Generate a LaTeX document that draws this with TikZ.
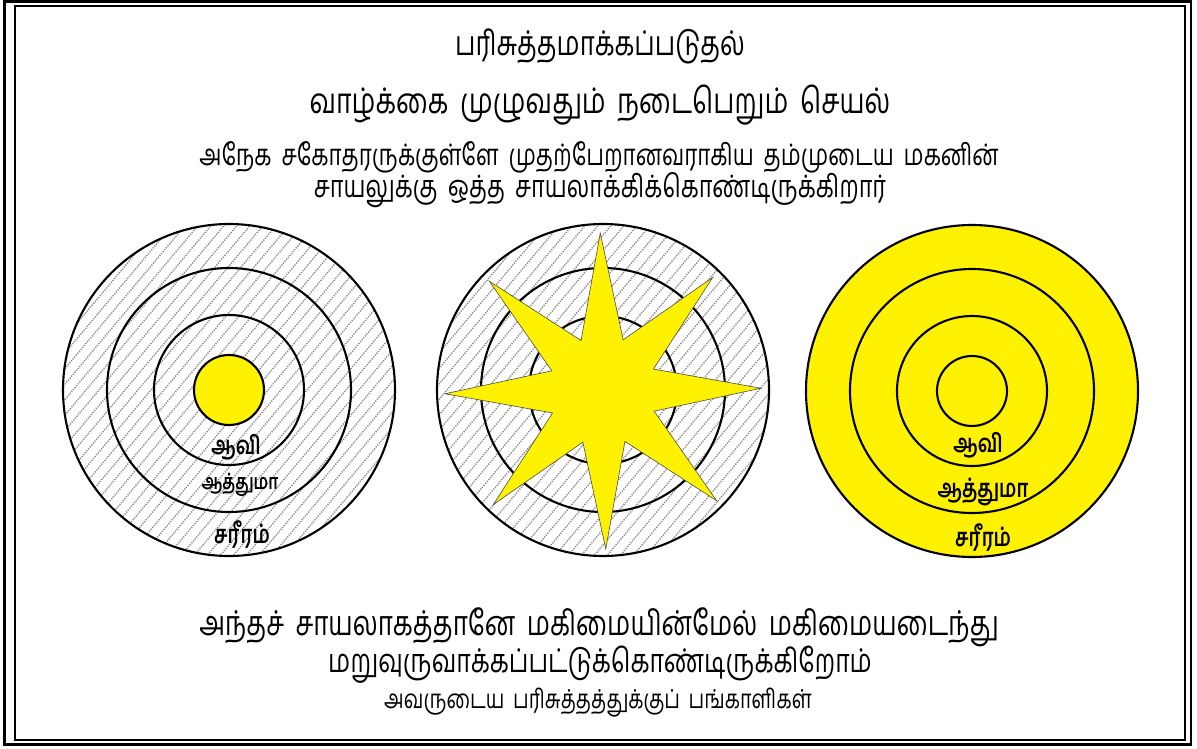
\documentclass[tikz,border=0pt]{standalone}
\usepackage{graphicx}
\usepackage{fontspec}
\newfontfamily\tam[Script=Tamil,WordSpace=1.8]{Hind Madurai}
\newcommand\tallt[1]{\scalebox{1}[1.32]{#1}}
\begin{document}
\begin{tikzpicture}[x=1pt,y=-1pt,
  ring/.style={draw=black,line width=2.1pt},
  hatch/.style={draw=gray!90,line width=1.4pt,dash pattern=on 1.3pt off 1.2pt},
  lbl/.style={inner sep=0pt,font=\tam\bfseries\fontsize{19}{21}\selectfont},
  lbls/.style={inner sep=0pt,font=\tam\bfseries\fontsize{16}{18}\selectfont},
  txt/.style={inner sep=0pt},
  sun/.style={fill=yellow,draw=gray!60!black,line width=0.6pt}]
\useasboundingbox (0,0) rectangle (1197,749);
\fill[white] (0,0) rectangle (1197,749);
% frame
\draw[line width=2.2pt] (4.5,1.5) rectangle (1191,744.5);
\draw[line width=2pt] (15,6.5) rectangle (1185,739.5);
% texts
\node[txt,font=\tam\fontsize{25.8}{30}\selectfont] (t1) at (600,46) {\tallt{பரிசுத்தமாக்கப்படுதல்}};
\node[txt,font=\tam\fontsize{26.7}{30}\selectfont] (t2) at (600,105) {\tallt{வாழ்க்கை முழுவதும் நடைபெறும் செயல்}};
\node[txt,font=\tam\fontsize{22.4}{26}\selectfont] (t3) at (599,157) {\tallt{அநேக சகோதரருக்குள்ளே முதற்பேறானவராகிய தம்முடைய மகனின்}};
\node[txt,font=\tam\fontsize{23.4}{26}\selectfont] (t4) at (600,190) {\tallt{சாயலுக்கு ஒத்த சாயலாக்கிக்கொண்டிருக்கிறார்}};
\node[txt,font=\tam\fontsize{26}{30}\selectfont] (b1) at (599,627) {\tallt{அந்தச் சாயலாகத்தானே மகிமையின்மேல் மகிமையடைந்து}};
\node[txt,font=\tam\fontsize{24.8}{30}\selectfont] (b2) at (600,665) {\tallt{மறுவுருவாக்கப்பட்டுக்கொண்டிருக்கிறோம்}};
\node[txt,font=\tam\fontsize{19.8}{24}\selectfont] (b3) at (598,703) {\tallt{அவருடைய பரிசுத்தத்துக்குப் பங்காளிகள்}};
% centres
\coordinate (L) at (229,390);
\coordinate (M) at (603,390);
\coordinate (R) at (972,391);
% left target
\begin{scope}
  \clip (L) circle (166);
  \begin{scope}[shift={(L)}]
    \foreach \k in {-18,...,18} \draw[hatch] (\k*13,0) ++(130:260) -- ++(-50:520);
  \end{scope}
\end{scope}
\draw[ring] (L) circle (166) (L) circle (122) (L) circle (75);
\draw[ring,fill=yellow] (L) circle (35);
\node[lbl] (l1) at (236,447) {\tallt{ஆவி}};
\node[lbls] (l2) at (240,485) {\tallt{ஆத்துமா}};
\node[lbl] (l3) at (242,535) {\tallt{சரீரம்}};
% middle target
\begin{scope}
  \clip (M) circle (166);
  \begin{scope}[shift={(M)}]
    \foreach \k in {-18,...,18} \draw[hatch] (\k*13,0) ++(130:260) -- ++(-50:520);
  \end{scope}
\end{scope}
\draw[ring] (M) circle (166) (M) circle (122) (M) circle (74);
\begin{scope}[shift={(603,391)},rotate=1]
  \draw[sun] (-90:158) \foreach \i in {1,...,15}{ -- ({-90+\i*22.5}:{mod(\i,2)==0 ? 158 : 55}) } -- cycle;
\end{scope}
% right target
\draw[ring,fill=yellow] (R) circle (166);
\draw[ring] (R) circle (122) (R) circle (75) (R) circle (35);
\node[lbl] (r1) at (978,445) {\tallt{ஆவி}};
\node[lbl] (r2) at (983,492) {\tallt{ஆத்துமா}};
\node[lbl] (r3) at (983,538) {\tallt{சரீரம்}};
\end{tikzpicture}
\end{document}
